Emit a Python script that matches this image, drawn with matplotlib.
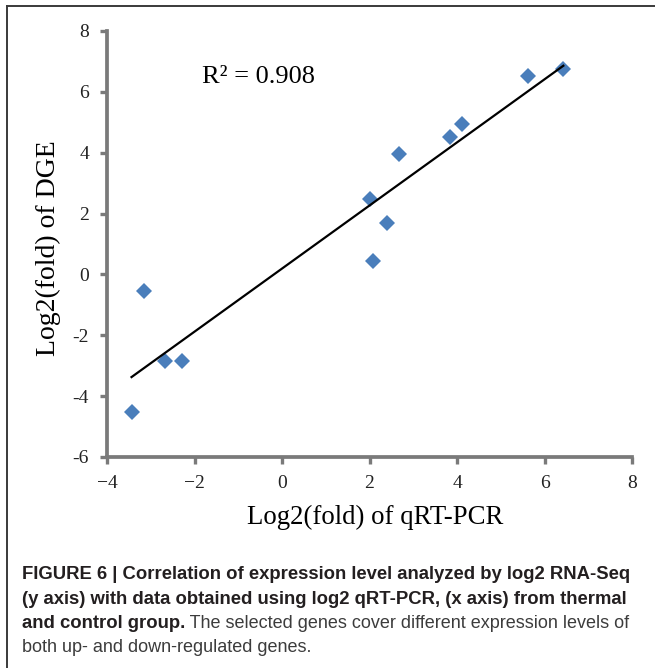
import numpy as np
import matplotlib.pyplot as plt
from matplotlib.lines import Line2D

# qRT-PCR vs DGE log2 fold changes
qpcr = [-3.44, -3.16, -2.68, -2.29, 2.01, 2.07, 2.39, 2.67, 3.85, 4.12, 5.63, 6.43]
dge = [-4.51, -0.53, -2.83, -2.84, 2.48, 0.43, 1.68, 3.96, 4.51, 4.94, 6.52, 6.74]
r2_text = "R² = 0.908"

x_ticks = [-4, -2, 0, 2, 4, 6, 8]
y_ticks = [-6, -4, -2, 0, 2, 4, 6, 8]

caption_bold = ["FIGURE 6 | Correlation of expression level analyzed by log2 RNA-Seq",
                "(y axis) with data obtained using log2 qRT-PCR, (x axis) from thermal",
                "and control group."]
caption_rest = [" The selected genes cover different expression levels of",
                "both up- and down-regulated genes."]

serif = "Liberation Serif"
sans = "Liberation Sans"
grey = "#7a7a7a"

fig = plt.figure(figsize=(6.55, 6.68), dpi=100)
ax = fig.add_axes([0.1634, 0.3159, 0.8015, 0.6377])

ax.plot(qpcr, dge, linestyle="none", marker="D", markersize=8.6,
        color="#4a7ebb", markeredgewidth=0)

# linear trend line over the data range
k, b = np.polyfit(qpcr, dge, 1)
xs = np.array([min(qpcr), max(qpcr)])
ax.plot(xs, k * xs + b, color="black", linewidth=1.6)

ax.text(-1.83, 6.49, r2_text, fontsize=19, family=serif, va="center", ha="left")

ax.set_xlim(-4, 8)
ax.set_ylim(-6, 8)
ax.set_xticks(x_ticks)
ax.set_xticklabels(["\u2212" + str(-t) if t < 0 else str(t) for t in x_ticks])
ax.set_yticks(y_ticks)
ax.set_yticklabels([str(t) for t in y_ticks])
for lab in ax.get_xticklabels() + ax.get_yticklabels():
    lab.set_family(serif)
    lab.set_fontsize(14)
    lab.set_color("#222222")

for s in ["top", "right"]:
    ax.spines[s].set_visible(False)
for s in ["left", "bottom"]:
    ax.spines[s].set_color(grey)
    ax.spines[s].set_linewidth(2.7)
ax.tick_params(length=5, width=2.4, color=grey, pad=8)

ax.set_xlabel("Log2(fold) of qRT-PCR", family=serif, fontsize=19.3)
ax.xaxis.set_label_coords(0.51, -0.113)
ax.set_ylabel("Log2(fold) of DGE", family=serif, fontsize=20)
ax.yaxis.set_label_coords(-0.088, 0.49)

# outer frame (top and left edges only)
fig.add_artist(Line2D([0.0107, 1.0], [0.991, 0.991], color="#3a3a3a", linewidth=1.4))
fig.add_artist(Line2D([0.0107, 0.0107], [0.0, 0.991], color="#3a3a3a", linewidth=1.4))

# caption
x0 = 22 / 655
baselines = [579, 603.5, 628, 652.5]
fs = 13.3
fs_reg = 13.0
for i, line in enumerate(caption_bold):
    t = fig.text(x0, 1 - baselines[i] / 668, line, family=sans, weight="bold",
                 fontsize=fs, color="#231f20", va="baseline")
fig.canvas.draw()
bb = t.get_window_extent(fig.canvas.get_renderer())
fig.text(bb.x1 / fig.bbox.width, 1 - baselines[2] / 668, caption_rest[0], family=sans,
         fontsize=fs_reg, color="#3c3c3c", va="baseline")
fig.text(x0, 1 - baselines[3] / 668, caption_rest[1], family=sans,
         fontsize=fs_reg, color="#3c3c3c", va="baseline")

fig.savefig("out.png", dpi=100)
